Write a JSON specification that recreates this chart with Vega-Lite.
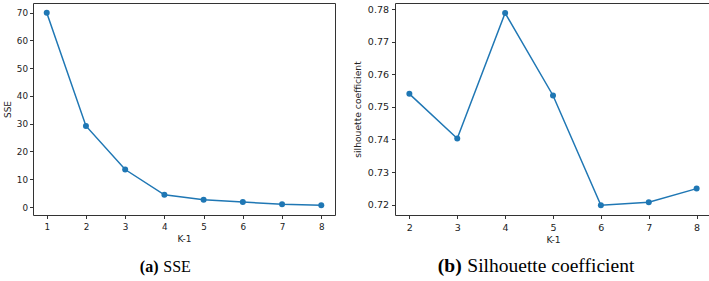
{
  "$schema": "https://vega.github.io/schema/vega-lite/v6.json",
  "background": "white",
  "padding": {"left": 2, "top": 2, "right": 0, "bottom": 0},
  "spacing": 16,
  "config": {
    "view": {"stroke": "#333", "strokeWidth": 1},
    "axis": {
      "domain": false, "grid": false, "tickColor": "#333", "tickSize": 3.5,
      "labelFont": "DejaVu Sans", "titleFont": "DejaVu Sans",
      "labelColor": "#222", "titleColor": "#222", "titleFontWeight": "normal"
    }
  },
  "datasets": {
    "sse": [
      {"k": 1, "v": 70.0}, {"k": 2, "v": 29.2}, {"k": 3, "v": 13.5}, {"k": 4, "v": 4.4},
      {"k": 5, "v": 2.6}, {"k": 6, "v": 1.8}, {"k": 7, "v": 1.0}, {"k": 8, "v": 0.6}
    ],
    "sil": [
      {"k": 2, "v": 0.754}, {"k": 3, "v": 0.7403}, {"k": 4, "v": 0.7788}, {"k": 5, "v": 0.7535},
      {"k": 6, "v": 0.7198}, {"k": 7, "v": 0.7207}, {"k": 8, "v": 0.7249}
    ]
  },
  "hconcat": [
    {
      "title": {"text": "(a)", "orient": "bottom", "anchor": "start", "dx": 137, "offset": -16,
        "font": "Liberation Serif", "fontSize": 16, "fontWeight": "bold", "color": "black"},
      "vconcat": [
        {
          "width": 302, "height": 212,
          "data": {"name": "sse"},
          "title": {"text": "SSE", "orient": "bottom", "anchor": "start", "dx": 160, "offset": 15,
            "font": "Liberation Serif", "fontSize": 16, "fontWeight": "normal", "color": "black"},
          "encoding": {
            "x": {"field": "k", "type": "quantitative",
              "scale": {"domain": [0.65, 8.35], "nice": false, "zero": false},
              "axis": {"values": [1, 2, 3, 4, 5, 6, 7, 8], "title": "K-1", "labelFontSize": 8.8,
                "titleFontSize": 9, "labelPadding": 3.5, "titlePadding": 4}},
            "y": {"field": "v", "type": "quantitative",
              "scale": {"domain": [-2.87, 73.47], "nice": false, "zero": false},
              "axis": {"values": [0, 10, 20, 30, 40, 50, 60, 70], "title": "SSE", "labelFontSize": 8.8,
                "titleFontSize": 9, "labelPadding": 2, "titlePadding": 4}}
          },
          "layer": [
            {"mark": {"type": "line", "color": "#1f77b4", "strokeWidth": 1.5}},
            {"mark": {"type": "circle", "color": "#1f77b4", "size": 36, "opacity": 1}}
          ]
        }
      ]
    },
    {
      "title": {"text": "(b)", "orient": "bottom", "anchor": "start", "dx": 85, "offset": -19,
        "font": "Liberation Serif", "fontSize": 19.5, "fontWeight": "bold", "color": "black"},
      "vconcat": [
        {
          "width": 316, "height": 212,
          "data": {"name": "sil"},
          "title": {"text": "Silhouette coefficient", "orient": "bottom", "anchor": "start", "dx": 114, "offset": 12,
            "font": "Liberation Serif", "fontSize": 19.5, "fontWeight": "normal", "color": "black"},
          "encoding": {
            "x": {"field": "k", "type": "quantitative",
              "scale": {"domain": [1.7, 8.3], "nice": false, "zero": false},
              "axis": {"values": [2, 3, 4, 5, 6, 7, 8], "title": "K-1", "labelFontSize": 9.5,
                "titleFontSize": 9.2, "labelPadding": 3.5, "titlePadding": 4}},
            "y": {"field": "v", "type": "quantitative",
              "scale": {"domain": [0.7168, 0.7819], "nice": false, "zero": false},
              "axis": {"values": [0.72, 0.73, 0.74, 0.75, 0.76, 0.77, 0.78], "format": ".2f",
                "title": "silhouette coefficient", "labelFontSize": 9.5,
                "titleFontSize": 9.2, "labelPadding": 3, "titlePadding": 5}}
          },
          "layer": [
            {"mark": {"type": "line", "color": "#1f77b4", "strokeWidth": 1.5}},
            {"mark": {"type": "circle", "color": "#1f77b4", "size": 36, "opacity": 1}}
          ]
        }
      ]
    }
  ]
}
